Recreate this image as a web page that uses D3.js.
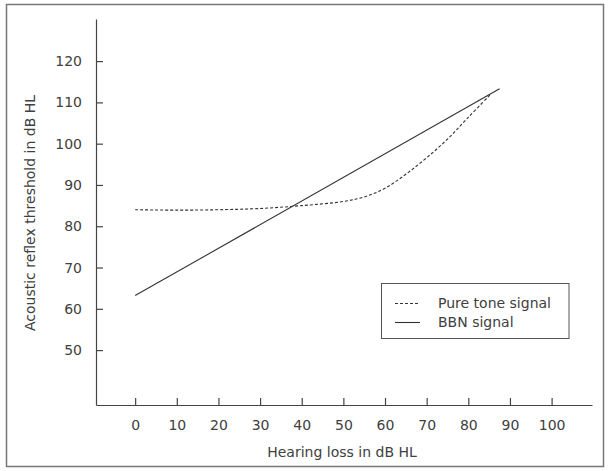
<!DOCTYPE html>
<html>
<head>
<meta charset="utf-8">
<script src="https://cdn.jsdelivr.net/npm/d3@7"></script>
<style>
body { margin: 0; background: #fff; }
svg { display: block; }
text { font-family: "DejaVu Sans", sans-serif; fill: #404040; }
</style>
</head>
<body>
<script>
// values
var xTicks = [0, 10, 20, 30, 40, 50, 60, 70, 80, 90, 100];
var yTicks = [50, 60, 70, 80, 90, 100, 110, 120];
var pureToneX = [0, 10, 20, 30, 40, 50, 55, 60, 65, 70, 75, 80, 85.5];
var pureToneY = [84.0, 83.9, 84.0, 84.3, 85.0, 86.0, 87.1, 89.2, 92.6, 96.6, 101.1, 106.4, 112.1];
var bbnX = [0, 87.5];
var bbnY = [63.2, 113.3];
var legendLabels = ["Pure tone signal", "BBN signal"];

var width = 608, height = 471;
var svg = d3.select("body").append("svg")
	.attr("width", width)
	.attr("height", height);

// outer frame
svg.append("rect")
	.attr("x", 6.5).attr("y", 4.5)
	.attr("width", 597).attr("height", 462)
	.attr("fill", "none")
	.attr("stroke", "#777")
	.attr("stroke-width", 1.5);

var x = d3.scaleLinear().domain([-9.4, 109.7]).range([96, 592]);
var y = d3.scaleLinear().domain([36.7, 130.2]).range([405, 19]);

var yAxis = svg.append("g")
	.attr("transform", "translate(96,0)")
	.call(d3.axisLeft(y).tickValues(yTicks).tickSize(-7).tickSizeOuter(0).tickPadding(14));

var xAxis = svg.append("g")
	.attr("transform", "translate(0,405)")
	.call(d3.axisBottom(x).tickValues(xTicks).tickSize(-7).tickSizeOuter(0).tickPadding(15));

[xAxis, yAxis].forEach(function(a){
	a.selectAll("path, line").attr("stroke", "#444").attr("stroke-width", 1.2);
	a.selectAll("text").attr("font-size", 14).attr("fill", "#404040")
		.attr("font-family", "DejaVu Sans, sans-serif");
});

// axis titles
svg.append("text")
	.attr("transform", "translate(35,213) rotate(-90)")
	.attr("text-anchor", "middle")
	.attr("font-size", 14)
	.text("Acoustic reflex threshold in dB HL");

svg.append("text")
	.attr("x", 342).attr("y", 457)
	.attr("text-anchor", "middle")
	.attr("font-size", 14)
	.text("Hearing loss in dB HL");

var line = d3.line()
	.x(function(d){ return x(d[0]); })
	.y(function(d){ return y(d[1]); })
	.curve(d3.curveCatmullRom);

var pure = pureToneX.map(function(v, i){ return [v, pureToneY[i]]; });
var bbn = bbnX.map(function(v, i){ return [v, bbnY[i]]; });

svg.append("path")
	.datum(pure)
	.attr("d", line)
	.attr("fill", "none")
	.attr("stroke", "#333")
	.attr("stroke-width", 1.1)
	.attr("stroke-dasharray", "3,2");

svg.append("path")
	.datum(bbn)
	.attr("d", d3.line().x(function(d){ return x(d[0]); }).y(function(d){ return y(d[1]); }))
	.attr("fill", "none")
	.attr("stroke", "#333")
	.attr("stroke-width", 1.1);

// legend
var lg = svg.append("g");
lg.append("rect")
	.attr("x", 381.5).attr("y", 283.5)
	.attr("width", 187.5).attr("height", 55)
	.attr("fill", "#fff")
	.attr("stroke", "#555")
	.attr("stroke-width", 1);

var dashes = ["3,2", null];
legendLabels.forEach(function(lbl, i){
	var yy = 303.5 + i * 19;
	lg.append("line")
		.attr("x1", 395).attr("x2", 420)
		.attr("y1", yy).attr("y2", yy)
		.attr("stroke", "#333")
		.attr("stroke-width", 1.1)
		.attr("stroke-dasharray", dashes[i]);
	lg.append("text")
		.attr("x", 438).attr("y", yy + 4.5)
		.attr("font-size", 14)
		.text(lbl);
});
</script>
</body>
</html>
